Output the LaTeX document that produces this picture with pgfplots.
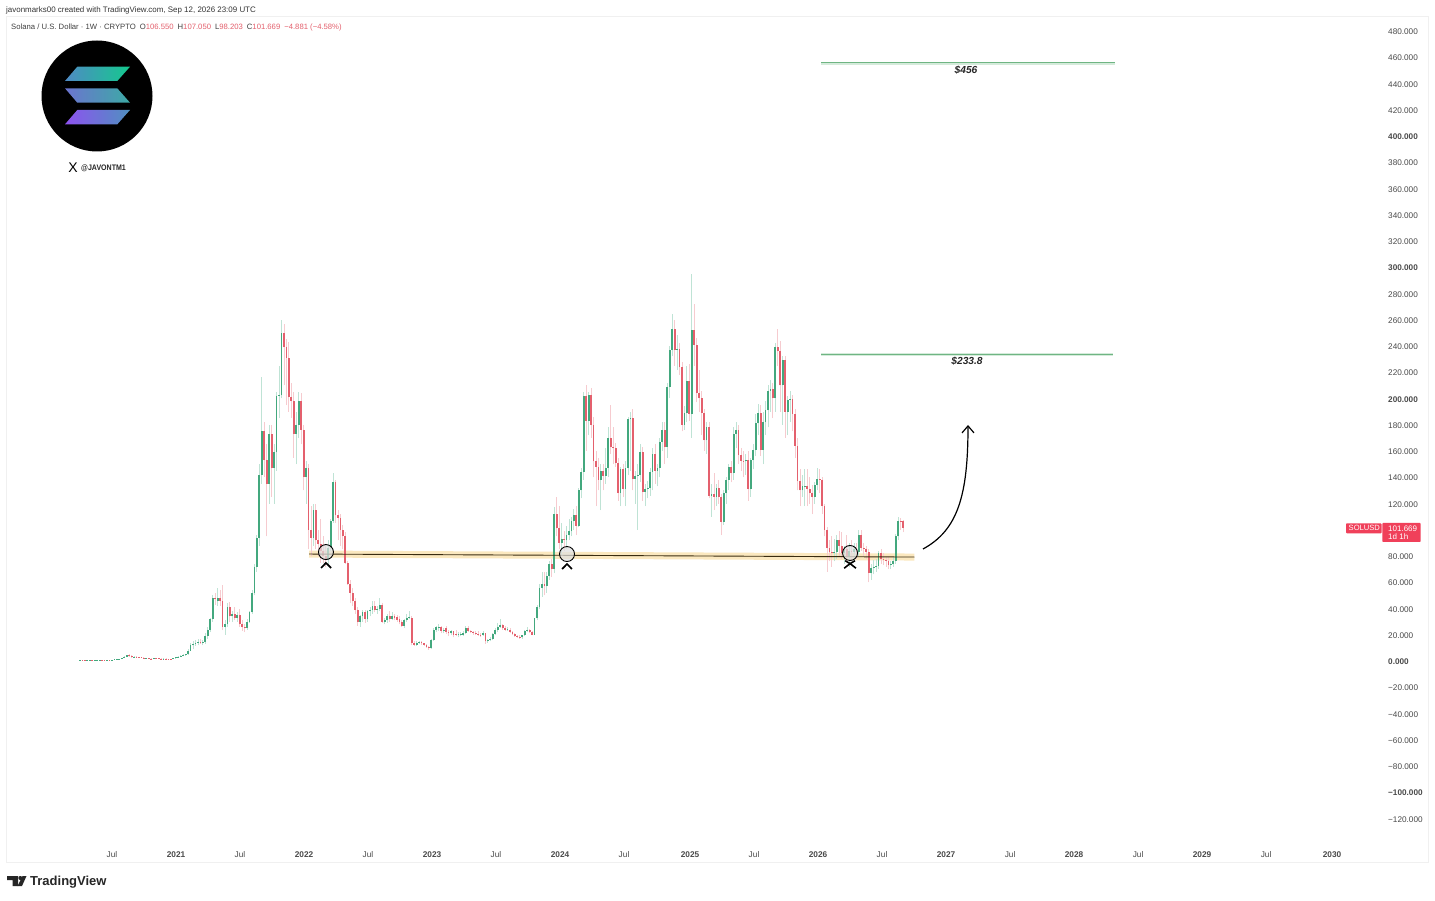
\documentclass[border=0pt]{standalone}
\usepackage{fontspec}
\setmainfont{Liberation Sans}
\usepackage{pgfplots}
\usepackage{pgfplotstable}
\pgfplotsset{compat=1.18}
\usetikzlibrary{arrows.meta}
\definecolor{upb}{HTML}{43A87E}
\definecolor{dnb}{HTML}{E4606D}
\definecolor{upw}{HTML}{BFE3D5}
\definecolor{dnw}{HTML}{F6CBCF}
\definecolor{tag}{HTML}{F0405A}
\definecolor{txt}{HTML}{4A4A4A}
\definecolor{band}{HTML}{FBE4B4}
\definecolor{lvl}{HTML}{3A2C10}
\definecolor{tgt}{HTML}{6FB583}
\definecolor{halo}{HTML}{D5EBDB}
\definecolor{laA}{HTML}{4F8AC4}
\definecolor{laB}{HTML}{14C98E}
\definecolor{lbA}{HTML}{6C74D0}
\definecolor{lbB}{HTML}{3CAAA5}
\definecolor{lcA}{HTML}{8E52F0}
\definecolor{lcB}{HTML}{4F90C0}
\pgfplotstableread{
i o h l c
0 .6 .95 .5 .7
1 .7 .8 .6 .65
2 .65 .72 .55 .6
3 .6 .7 .5 .62
4 .62 .75 .58 .7
5 .7 .72 .55 .6
6 .6 .68 .55 .62
7 .62 .7 .58 .65
8 .65 .8 .6 .75
9 .75 .9 .65 .7
10 .7 .75 .6 .65
11 .65 .75 .6 .72
12 .72 .8 .65 .7
13 .7 1.1 .65 1.0
14 1.0 1.3 .9 1.2
15 1.2 1.5 1.1 1.3
16 1.3 1.7 1.2 1.6
17 1.6 2.6 1.5 2.5
18 2.5 3.6 2.3 3.2
19 3.2 4.5 3.0 4.2
20 4.2 5.0 3.4 3.6
21 3.6 4.2 2.6 3.0
22 3.0 3.6 2.7 3.2
23 3.2 3.6 2.6 2.9
24 2.9 3.3 2.5 2.7
25 2.7 3.0 2.3 2.5
26 2.5 2.7 2.0 2.1
27 2.1 2.4 1.9 2.2
28 2.2 2.4 1.8 1.9
29 1.9 2.2 1.7 1.8
30 1.8 2.3 1.7 2.2
31 2.2 2.6 1.9 2.1
32 2.1 2.3 1.8 1.9
33 1.9 2.2 1.6 1.7
34 1.7 2.0 1.5 1.8
35 1.8 2.0 1.5 1.6
36 1.6 1.9 1.4 1.5
37 1.5 1.7 1.3 1.4
38 1.4 2.2 1.3 2.0
39 2.0 3.4 1.9 3.1
40 3.1 3.9 2.8 3.4
41 3.4 4.3 3.1 3.9
42 3.9 5.0 3.5 4.4
43 4.4 5.6 4.0 5.0
44 5.0 8.8 4.9 8.0
45 8.0 14 7.5 12
46 12 15 9 13
47 13 16 11.5 14
48 14 16.5 12 14.5
49 14.5 17 13 14.4
50 14.4 16 12 14.7
51 14.7 21 13 19
52 19 26 17 24
53 24 33 22 32
54 32 50 30 48
55 48 52 43 47
56 46 56 42 48
57 48 54 42 46
58 46 58 23.6 26
59 26 31 20 28
60 28 44 26 41
61 41 45 30 34
62 34 38 30 36
63 36 41 31 33
64 33 37 30 35
65 35 40 26 28
66 28 31 23 26
67 26 28 22 25
68 25 32 24 30
69 30 38 29 37
70 37 54 36 52
71 52 74 50 72
72 72 96 68 94
73 94 150 88 142
74 142 216 135 175
75 175 182 140 153
76 153 165 95 135
77 135 180 120 173
78 173 180 125 147
79 147 165 120 159
80 159 205 145 202
81 202 225 185 203
82 203 260 200 250
83 250 257 210 239
84 239 245 195 231
85 231 243 190 201
86 201 212 185 198
87 198 205 155 173
88 173 190 150 180
89 180 205 170 198
90 198 204 165 176
91 176 180 130 140
92 140 152 120 147
93 147 150 85 100
94 100 118 80 94
95 94 120 88 115
96 115 120 85 92
97 92 100 80 89
98 89 108 75 84
99 84 95 75 80
100 80 88 72 78
101 78 92 74 86
102 86 108 84 107
103 107 143 105 136
104 136 138 105 111
105 111 115 92 109
106 109 112 88 100
107 100 104 85 95
108 95 98 74 75
109 75 76 58 59
110 59 62 44 52
111 52 56 42 46
112 46 48 36 39
113 39 41 27 30
114 30 35 26 34
115 34 39 30 37
116 37 39 29 32
117 32 39 30 38
118 38 41 34 39
119 39 46 36 42
120 42 46 37 39
121 39 42 36 40
122 40 48 38 43
123 43 44 29 30
124 30 33 28 31
125 31 36 29 34
126 34 38 30 32
127 32 37 31 34.5
128 34.5 36 31 32.5
129 33.5 35 30 31.5
130 32 34 28 29.5
131 30 31 26 27
132 27 32 25 31
133 31 36 30 33
134 33 38 32 33.5
135 33 34 12 14
136 14 15.5 11.5 12.5
137 12.5 15 11.5 14
138 14 15.5 13 14.5
139 14.5 15 12.5 13.5
140 13.5 14 11.5 12.5
141 12.5 13 10 11
142 11 11.5 8.5 9.6
143 9.6 17 9 16
144 16 25 15.5 23.6
145 23.6 27 22 25.6
146 25 28 23 26
147 26 26.5 21 23
148 23 25 21 24
149 25.5 26.5 20.5 22
150 22 24 19 21
151 21 24 19.5 23
152 22.5 23 18 20
153 20.5 24 19 20
154 20 22 18 20.5
155 20 22 19 20.3
156 20 23 19 21
157 21 27 20.5 25
158 25 26.5 22 23
159 23 24 21 22
160 22 23 20 21.5
161 21.5 23 19.5 20.5
162 20.5 22.5 19 20.2
163 20 21.5 18.5 19.8
164 19.8 22.5 19 21
165 21 21.5 13 15
166 15 17 14 16
167 16 18 15 17
168 17 21.5 16 20.5
169 20.5 25 19.5 23.6
170 23.6 29 22 26
171 26 32 25 27.4
172 27.4 28 24 25
173 25 27 23 24
174 24 26 22.5 24.5
175 24 25 21 22
176 22 23 19.5 20.5
177 20.5 21.5 18.5 19
178 19 20 17.5 18.5
179 18.5 19.5 17 18
180 18 20 17 19.5
181 19.5 24 19 23
182 23 26 22 23.5
183 23.5 24.5 21 22
184 22 23 19.5 20
185 20 33 19.5 32.5
186 32.5 43 31 41.4
187 41.4 59 40 56
188 56 68 49 59
189 59 68 50 57
190 57 68 52 65
191 65 76 62 74
192 74 78 64 70
193 70 117 67 112
194 112 125 95 101
195 101 118 85 90
196 90 105 81 93
197 93 99 84 92
198 92 103 85 96
199 96 108 92 99
200 99 110 95 107
201 107 116 100 111
202 111 118 96 103
203 103 132 102 130
204 130 147 124 144
205 144 205 138 202
206 202 210 160 183
207 183 205 172 203
208 203 208 170 180
209 180 186 140 152
210 152 160 118 148
211 148 155 130 138
212 138 150 115 145
213 145 150 130 141
214 141 162 135 147
215 147 178 140 170
216 170 195 158 163
217 163 178 150 162
218 162 166 148 151
219 151 155 122 128
220 128 148 118 146
221 146 150 125 131
222 131 152 118 147
223 147 186 142 184
224 184 190 145 185
225 185 192 130 139
226 139 145 120 141
227 141 150 100 142
228 142 165 136 159
229 159 163 122 129
230 129 135 118 131
231 131 137 124 132
232 132 147 126 144
233 144 162 130 158
234 158 165 135 145
235 145 150 133 147
236 147 170 140 167
237 167 182 160 176
238 176 182 150 163
239 163 212 155 209
240 209 240 200 237
241 237 264 232 253
242 253 260 225 237
243 237 248 222 238
244 238 242 218 224
245 224 228 175 180
246 180 194 176 189
247 189 225 182 213
248 213 226 183 188
249 188 295 170 252
250 252 272 225 241
251 241 246 197 204
252 204 222 190 200
253 200 206 172 189
254 189 192 160 168
255 168 182 158 178
256 178 182 124 126
257 126 135 110 127
258 127 143 115 125
259 125 135 118 132
260 132 138 120 125
261 125 127 96 106
262 106 130 104 128
263 128 140 120 138
264 138 150 130 148
265 148 152 136 143
266 143 178 138 173
267 173 182 162 176
268 176 180 150 157
269 157 162 145 152.6
270 152.6 160 140 152
271 152 158 142 153
272 153 160 122 131
273 131 155 125 153
274 153 165 146 161
275 161 188 156 181
276 181 196 172 189
277 189 195 156 161
278 161 190 150 182
279 182 198 172 191
280 191 210 178 206
281 206 214 190 207
282 207 212 185 200
283 200 242 190 239
284 239 253 225 236
285 236 244 190 210
286 210 232 180 229
287 229 232 170 190
288 190 202 172 199
289 199 206 182 199.5
290 199.5 203 175 188
291 188 192 155 164
292 164 170 130 137
293 137 146 118 130
294 130 142 125 133
295 133 146 118 133.5
296 133 146 118 131
297 131 140 120 128
298 128 134 112 125
299 125 136 120 134
300 134 147 130 139
301 139 146 128 138
302 138 140 112 118
303 118 120 95 100
304 100 102 68 86
305 86 92 76 83
306 83 95 72 82
307 82 93 76 83
308 83 96 78 92
309 92 99 80 88
310 88 98 78 82
311 82 88 74 85
312 85 96 76 80
313 80 90 72 84
314 84 92 76 83
315 83 90 77 85
316 85 90 78 83
317 83 100 80 96
318 96 100 84 86
319 86 90 80 85
320 85 88 78 83
321 83 85 60 67
322 67 74 62 71
323 71 77 66 72
324 72 78 68 72.5
325 72.5 84 70 82
326 82 85 74 78
327 78 82 73 77
328 77 79 72 76.5
329 76.5 79 70 73
330 73 76 70 74
331 74 79 72 76
332 76 97 74 95
333 95 110 92 107
334 107 109 100 106.55
335 106.55 107.05 98.203 101.669
}\ohlc
\def\P(#1,#2){(#1pt,{900pt-#2pt})}
\begin{document}
\begin{tikzpicture}[x=1pt,y=1pt]
\path[use as bounding box,fill=white] (0,0) rectangle (1435,900);
\begin{axis}[
  at={(6pt,38pt)},anchor=south west,scale only axis,width=1422pt,height=846pt,
  xmin=-30.12,xmax=548.6,ymin=-153.14,ymax=491.43,
  axis line style={color=black!6,line width=0.8pt},
  major tick length=0pt,
  xtick={13.02,39.07,65.12,91.17,117.22,143.26,169.31,195.36,221.41,248.27,274.32,300.37,326.41,352.46,378.51,404.56,430.61,456.65,482.70,509.56},
  xticklabels={Jul,\textbf{2021},Jul,\textbf{2022},Jul,\textbf{2023},Jul,\textbf{2024},Jul,\textbf{2025},Jul,\textbf{2026},Jul,\textbf{2027},Jul,\textbf{2028},Jul,\textbf{2029},Jul,\textbf{2030}},
  xticklabel style={anchor=center,yshift=7.5pt,font=\fontsize{8.3}{9}\selectfont,text=txt},
  ytick={-120,-100,-80,-60,-40,-20,0,20,40,60,80,120,140,160,180,200,220,240,260,280,300,320,340,360,380,400,420,440,460,480},
  yticklabels={−120.000,\textbf{−100.000},−80.000,−60.000,−40.000,−20.000,\textbf{0.000},20.000,40.000,60.000,80.000,120.000,140.000,160.000,180.000,\textbf{200.000},220.000,240.000,260.000,280.000,\textbf{300.000},320.000,340.000,360.000,380.000,\textbf{400.000},420.000,440.000,460.000,480.000},
  yticklabel pos=right,
  yticklabel style={anchor=west,xshift=-40pt,yshift=-0.8pt,inner sep=0pt,font=\fontsize{8.2}{10}\selectfont,text=txt},
  clip=false,
]
% support band
\addplot[line width=7pt,color=band,opacity=.85,forget plot] coordinates {(93.2,81.5)(339.6,79.2)};
% wicks
\addplot[draw=none,mark=none,forget plot,error bars/.cd,y dir=plus,y explicit,error mark=none,error bar style={line width=.9pt,color=upw}]
  table[x expr={ifthenelse(\thisrow{c}>=\thisrow{o},\thisrow{i},nan)},y expr=\thisrow{l},y error plus expr={\thisrow{h}-\thisrow{l}}] {\ohlc};
\addplot[draw=none,mark=none,forget plot,error bars/.cd,y dir=plus,y explicit,error mark=none,error bar style={line width=.9pt,color=dnw}]
  table[x expr={ifthenelse(\thisrow{c}<\thisrow{o},\thisrow{i},nan)},y expr=\thisrow{l},y error plus expr={\thisrow{h}-\thisrow{l}}] {\ohlc};
% bodies
\addplot[draw=none,mark=none,forget plot,error bars/.cd,y dir=plus,y explicit,error mark=none,error bar style={line width=1.8pt,color=upb}]
  table[x expr={ifthenelse(\thisrow{c}>=\thisrow{o},\thisrow{i},nan)},y expr=\thisrow{o},y error plus expr={\thisrow{c}-\thisrow{o}}] {\ohlc};
\addplot[draw=none,mark=none,forget plot,error bars/.cd,y dir=plus,y explicit,error mark=none,error bar style={line width=1.8pt,color=dnb}]
  table[x expr={ifthenelse(\thisrow{c}<\thisrow{o},\thisrow{i},nan)},y expr=\thisrow{c},y error plus expr={\thisrow{o}-\thisrow{c}}] {\ohlc};
% support line
\addplot[line width=.9pt,color=lvl,forget plot] coordinates {(93.2,81.5)(339.6,79.2)};
% circles
\addplot[only marks,mark=*,mark size=7.5pt,mark options={fill=black!12,fill opacity=.72,draw=black,draw opacity=1,line width=.9pt},forget plot] coordinates {(100.1,83)(198.2,81.5)(313.4,82.3)};
% chevrons
\addplot[line width=1.7pt,black,forget plot] coordinates {(98.1,70.9)(100.1,74.7)(102.2,70.9)};
\addplot[line width=1.7pt,black,forget plot] coordinates {(196.2,70.1)(198.2,73.9)(200.2,70.1)};
\addplot[line width=1.6pt,black,forget plot] coordinates {(311.0,70.7)(313.4,74.2)(315.8,70.7)};
\addplot[line width=1.6pt,black,forget plot] coordinates {(311.4,76.4)(313.4,74.2)(315.4,76.4)};
% targets
\addplot[line width=3pt,color=halo,forget plot] coordinates {(301.6,455.6)(421.2,455.6)};
\addplot[line width=.9pt,color=tgt,forget plot] coordinates {(301.6,456)(421.2,456)};
\addplot[line width=3pt,color=halo,forget plot] coordinates {(301.6,233.4)(420.4,233.4)};
\addplot[line width=.9pt,color=tgt,forget plot] coordinates {(301.6,233.8)(420.4,233.8)};
\end{axis}
\node[font=\fontsize{10.2}{11}\selectfont\bfseries\itshape,text=black!85] at \P(966,70.3) {\$456};
\node[font=\fontsize{10.2}{11}\selectfont\bfseries\itshape,text=black!85] at \P(967,361.5) {\$233.8};
\draw[line width=1.2pt,black,-{Straight Barb[length=7pt,width=12pt]}] \P(923,549) .. controls \P(958,530) and \P(968,495) .. \P(968,425);
% header
\node[anchor=west,inner sep=0pt,font=\fontsize{7.95}{9}\selectfont,text=black!80] at \P(6,10.3) {javonmarks00 created with TradingView.com, Sep 12, 2026 23:09 UTC};
\node[anchor=west,inner sep=0pt,font=\fontsize{7.7}{9}\selectfont,text=black!75] at \P(11,27.3) {Solana / U.S. Dollar · 1W · CRYPTO\hspace{4pt}O\textcolor{dnb}{106.550}\hspace{4pt}H\textcolor{dnb}{107.050}\hspace{4pt}L\textcolor{dnb}{98.203}\hspace{4pt}C\textcolor{dnb}{101.669}\hspace{4pt}\textcolor{dnb}{−4.881 (−4.58\%)}};
% logo
\fill[black] \P(97,96) circle (55.5pt);
\shade[left color=laA,right color=laB] \P(65,81)--\P(77.3,66.7)--\P(130,66.7)--\P(117.3,81)--cycle;
\shade[left color=lbA,right color=lbB] \P(65,88.3)--\P(117.3,88.3)--\P(130,102.7)--\P(77.3,102.7)--cycle;
\shade[left color=lcA,right color=lcB] \P(65,124.3)--\P(77.3,110)--\P(130,110)--\P(117.3,124.3)--cycle;
\node[font=\fontsize{14}{15}\selectfont,inner sep=0pt] at \P(73,168) {X};
\node[anchor=west,inner sep=0pt,xscale=.88,font=\fontsize{8}{9}\selectfont\bfseries,text=black!85] at \P(81,168) {@JAVONTM1};
% price tag
\fill[tag,rounded corners=.8pt] \P(1346,523.3) rectangle \P(1381.5,533.3);
\fill[tag,rounded corners=.8pt] \P(1382.3,523) rectangle \P(1420.7,542);
\node[anchor=west,inner sep=0pt,font=\fontsize{7.6}{9}\selectfont,text=white] at \P(1348.5,528.3) {SOLUSD};
\node[anchor=west,inner sep=0pt,font=\fontsize{8}{9}\selectfont,text=white] at \P(1388,528.3) {101.669};
\node[anchor=west,inner sep=0pt,font=\fontsize{8}{9}\selectfont,text=white] at \P(1388,537) {1d 1h};
% TradingView mark
\fill[black!85] \P(7,876)--\P(18,876)--\P(18,886)--\P(12.5,886)--\P(12.5,880)--\P(7,880)--cycle;
\fill[black!85] \P(20.3,878) circle (2pt);
\fill[black!85] \P(22.5,876)--\P(26.5,876)--\P(22,886)--\P(17.5,886)--cycle;
\node[anchor=west,inner sep=0pt,font=\fontsize{13}{15}\selectfont,text=black!85] at \P(30,882) {\textbf{TradingView}};
\end{tikzpicture}
\end{document}
